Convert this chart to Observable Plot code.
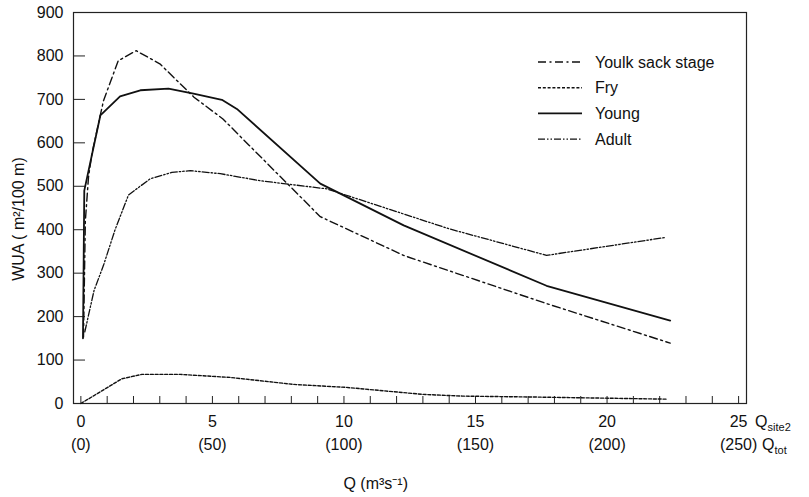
<!DOCTYPE html>
<html><head><meta charset="utf-8">
<script src="https://cdn.jsdelivr.net/npm/d3@7"></script>
<script src="https://cdn.jsdelivr.net/npm/@observablehq/plot@0.6"></script>
<style>body{margin:0;background:#fff;font-family:"Liberation Sans",Arial,sans-serif}</style>
</head><body><div id="chart"></div>
<script>
// Data (x = Q at site 2, m3/s ; y = WUA m2/100 m)
const seriesNames = ["Youlk sack stage", "Fry", "Young", "Adult"];
const yolkX = [0.1, 0.17, 0.29, 0.42, 0.86, 1.42, 2.1, 3.0, 4.3, 5.4, 6.4, 9.1, 12.3, 17.7, 22.4];
const yolkY = [153, 420, 521, 575, 697, 789, 812, 782, 705, 655, 594, 430, 340, 230, 139];
const fryX = [0, 1.56, 2.32, 3.78, 5.68, 8.08, 10.1, 13.0, 14.5, 17.1, 22.3];
const fryY = [0, 57, 67, 67, 60, 44, 37, 21, 17, 15, 10];
const youngX = [0.08, 0.13, 0.74, 1.49, 2.26, 3.33, 4.28, 5.36, 5.93, 9.1, 12.27, 17.7, 22.4];
const youngY = [150, 490, 663, 707, 721, 725, 713, 699, 678, 506, 410, 271, 191];
const adultX = [0.15, 0.5, 0.86, 1.3, 1.81, 2.63, 3.46, 4.16, 5.3, 6.8, 9.35, 14.0, 17.7, 22.2];
const adultY = [165, 260, 318, 400, 480, 517, 532, 536, 529, 513, 494, 402, 341, 382];

const yTicks = [0, 100, 200, 300, 400, 500, 600, 700, 800, 900];
const xMinorTicks = d3.range(0, 26, 1);
const xLabelTicks = [0, 5, 10, 15, 20, 25];
const totLabels = ["(0)", "(50)", "(100)", "(150)", "(200)", "(250)"];

const styles = {
  "Youlk sack stage": {dash: "8,3.5,2,3.5", w: 1.4},
  "Fry": {dash: "3,1.8", w: 1.4},
  "Young": {dash: null, w: 1.8},
  "Adult": {dash: "7,2,1.5,2,1.5,2", w: 1.3}
};

const toRows = (name, xs, ys) => xs.map((x, i) => ({name, x, y: ys[i]}));
const rows = {
  "Youlk sack stage": toRows("Youlk sack stage", yolkX, yolkY),
  "Fry": toRows("Fry", fryX, fryY),
  "Young": toRows("Young", youngX, youngY),
  "Adult": toRows("Adult", adultX, adultY)
};

const font = "Liberation Sans, Arial, sans-serif";
const plot = Plot.plot({
  width: 809, height: 497,
  marginLeft: 73, marginRight: 63, marginTop: 12, marginBottom: 94,
  x: {domain: [-0.28, 25.3]},
  y: {domain: [0, 900]},
  style: {fontFamily: font, fontSize: "16px", color: "#111", background: "#fff"},
  marks: [
    Plot.frame({stroke: "#222", strokeWidth: 1.2}),
    Plot.axisY({ticks: yTicks, tickSize: 0, tickPadding: 10, fontSize: 16, label: null}),
    Plot.axisY({ticks: yTicks, tickSize: 12, dx: 12, tickFormat: () => "", label: null, stroke: "#222"}),
    Plot.axisX({ticks: xMinorTicks, tickSize: 7, dy: -7, tickFormat: () => "", label: null, stroke: "#222"}),
    Plot.axisX({ticks: xLabelTicks, tickSize: 0, tickPadding: 12, fontSize: 16, label: null}),
    Plot.axisX({ticks: xLabelTicks, tickSize: 0, tickPadding: 35, fontSize: 16, label: null,
      tickFormat: (d) => totLabels[xLabelTicks.indexOf(d)]}),
    ...seriesNames.map(n => Plot.line(rows[n], {
      x: "x", y: "y", stroke: "#111", strokeWidth: styles[n].w,
      strokeDasharray: styles[n].dash, curve: "linear"
    }))
  ]
});
document.getElementById("chart").appendChild(plot);

// Extra labels (subscripts, titles, legend)
const svg = d3.select(plot);
const xs = plot.scale("x"), ysc = plot.scale("y");
const x25 = xs.apply(25), y0 = ysc.apply(0);
const tq1 = svg.append("text").attr("x", x25 + 17).attr("y", y0 + 24).attr("text-anchor", "start")
  .attr("font-family", font).attr("font-size", 16).attr("fill", "#111");
tq1.append("tspan").text("Q");
tq1.append("tspan").attr("font-size", 11).attr("dy", 4).text("site2");
const tq2 = svg.append("text").attr("x", x25 + 24).attr("y", y0 + 47).attr("text-anchor", "start")
  .attr("font-family", font).attr("font-size", 16).attr("fill", "#111");
tq2.append("tspan").text("Q");
tq2.append("tspan").attr("font-size", 11).attr("dy", 4).text("tot");

svg.append("text").attr("x", xs.apply(10)).attr("y", 489).attr("text-anchor", "start")
  .attr("font-family", font).attr("font-size", 16).attr("fill", "#111")
  .text("Q (m³s⁻¹)");

svg.append("text").attr("transform", "translate(24,219) rotate(-90)")
  .attr("text-anchor", "middle")
  .attr("font-family", font).attr("font-size", 16).attr("fill", "#111")
  .text("WUA ( m²/100 m)");

const lg = svg.append("g");
seriesNames.forEach((n, i) => {
  const yy = 62 + i * 25.7;
  lg.append("line").attr("x1", 538).attr("x2", 582).attr("y1", yy).attr("y2", yy)
    .attr("stroke", "#111").attr("stroke-width", styles[n].w)
    .attr("stroke-dasharray", styles[n].dash);
  lg.append("text").attr("x", 595).attr("y", yy).attr("dy", "0.35em").attr("text-anchor", "start")
    .attr("font-family", font).attr("font-size", 16).attr("fill", "#111").text(n);
});
</script></body></html>
